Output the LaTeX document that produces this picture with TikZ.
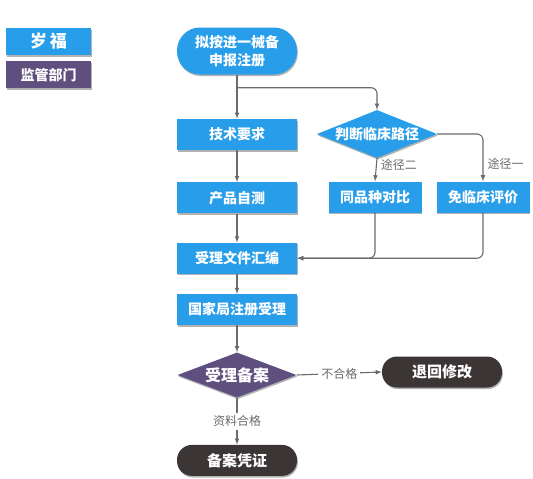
\documentclass[tikz,border=0pt]{standalone}
\usepackage{fontspec}
\setmainfont{Noto Sans CJK SC}
\usetikzlibrary{positioning,shapes.geometric,shadows}
\definecolor{flowblue}{RGB}{40,157,234}
\definecolor{flowpurple}{RGB}{95,79,126}
\definecolor{flowdark}{RGB}{59,53,53}
\definecolor{flowline}{RGB}{107,107,107}
\begin{document}
\begin{tikzpicture}[x=1pt,y=-1pt]
\tikzstyle{shade}=[drop shadow={shadow xshift=0.8pt, shadow yshift=-1.6pt, opacity=0.3, fill=black}]
\tikzstyle{box}=[rectangle, fill=flowblue, text=white, shade, font=\bfseries\fontsize{14}{16}\selectfont, minimum width=120pt, minimum height=31pt, inner sep=0pt]
\tikzstyle{startbox}=[box, rounded corners=23pt, minimum height=47pt, align=center, font=\bfseries\fontsize{14}{18}\selectfont]
\tikzstyle{endbox}=[box, fill=flowdark, rounded corners=15pt, font=\bfseries\fontsize{15}{17}\selectfont]
\tikzstyle{judge}=[diamond, aspect=2.5, fill=flowblue, text=white, shade, font=\bfseries\fontsize{14}{16}\selectfont, minimum width=120pt, minimum height=48pt, inner sep=0pt]
\tikzstyle{legend}=[rectangle, text=white, shade, font=\bfseries\fontsize{14}{16}\selectfont, minimum width=85pt, minimum height=27pt, inner sep=0pt]
\tikzstyle{connect}=[-latex, draw=flowline, line width=1.1pt]
\tikzstyle{tag}=[text=flowline, font=\fontsize{12}{14}\selectfont, inner sep=1pt]
\useasboundingbox (0,0) rectangle (533,479);
% legend
\node[legend, fill=flowblue, font=\bfseries\fontsize{17}{19}\selectfont] (lgblue) at (48.5,41.5) {岁\,福};
\node[legend, fill=flowpurple, below=6pt of lgblue] (lgpurple) {监管部门};
% main column
\node[startbox] (apply) at (237,51) {拟按进一械备\\申报注册};
\node[box, below=44pt of apply] (tech) {技术要求};
\node[box, below=32pt of tech] (selftest) {产品自测};
\node[box, below=29pt of selftest] (compile) {受理文件汇编};
\node[box, below=20pt of compile] (nation) {国家局注册受理};
\node[judge, fill=flowpurple, minimum width=119pt, minimum height=45pt, font=\bfseries\fontsize{16}{18}\selectfont, below=27pt of nation] (accept) {受理备案};
\node[endbox, below=47pt of accept] (cert) {备案凭证};
% clinical route
\node[judge] (route) at (377,134) {判断临床路径};
\node[box, minimum width=93pt] (similar) at (375,197) {同品种对比};
\node[box, minimum width=93pt] (exempt) at (483,197) {免临床评价};
\node[endbox] (revise) at (442,372) {退回修改};
\coordinate (fork) at ([yshift=-13pt]apply.south);
\path (apply) edge[connect] (tech)
      (tech) edge[connect] (selftest)
      (selftest) edge[connect] (compile)
      (compile) edge[connect] (nation)
      (nation) edge[connect] (accept)
      ;
\draw[connect, rounded corners=6pt] (fork) -| (route.north);
\draw[connect] (route.south) -- node[tag, pos=0.3, right=3pt] {途径二} (similar.north);
\draw[connect, rounded corners=6pt] (route.east) -| node[tag, pos=0.82, right=3pt] {途径一} (exempt.north);
\draw[connect, rounded corners=6pt] (similar.south) |- (compile.east);
\draw[connect, rounded corners=6pt] (exempt.south) |- (compile.east);
\draw[connect] (accept.east) -- node[tag, fill=white, inner sep=3pt] {不合格} (revise.west);
\draw[connect] (accept.south) -- node[tag, fill=white, inner sep=3pt] {资料合格} (cert.north);
\end{tikzpicture}
\end{document}
